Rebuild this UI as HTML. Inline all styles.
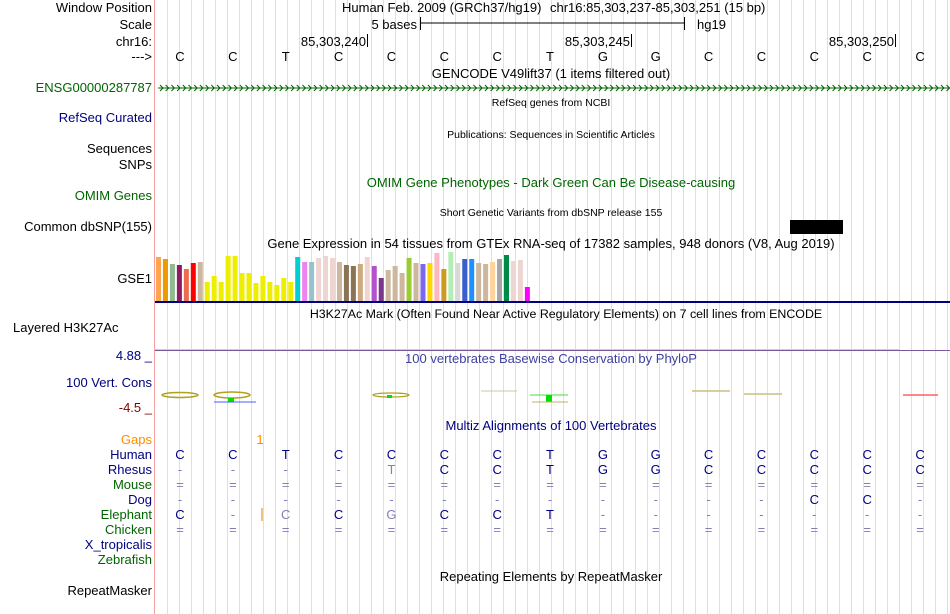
<!DOCTYPE html>
<html><head><meta charset="utf-8"><style>
body{margin:0;background:#fff;}
svg{display:block;font-family:"Liberation Sans",sans-serif;}
</style></head><body>
<svg id="g" width="950" height="614" xmlns="http://www.w3.org/2000/svg">
<g id="grid"></g>
<line x1="154.5" y1="0" x2="154.5" y2="614" stroke="#f4a0a0"/>
<g id="labels" font-size="13" text-anchor="end"></g>
<g id="tracks"></g>
</svg>
<script>
// ---- data ----
const bases = ["C","C","T","C","C","C","C","T","G","G","C","C","C","C","C"];
const rhesus = ["-","-","-","-","T","C","C","T","G","G","C","C","C","C","C"];
const dog = ["-","-","-","-","-","-","-","-","-","-","-","-","C","C","-"];
const elephant = ["C","-","C","C","G","C","C","T","-","-","-","-","-","-","-"];
const elephantLight = [0,0,1,0,1,0,0,0,0,0,0,0,0,0,0];
const rhesusLight = [0,0,0,0,1,0,0,0,0,0,0,0,0,0,0];
const gtexValues = [44,42,37,36,32,38,39,19,25,19,45,45,28,28,18,25,19,16,23,19,44,39,39,43,45,43,39,36,35,37,44,35,23,31,35,28,43,38,37,38,48,32,49,38,42,42,38,37,39,42,46,40,41,14];
const gtexColors = ["#FFA54F","#EE9A00","#8FBC8F","#8B1C62","#EE6A50","#FF0000","#CDB79E","#EEEE00","#EEEE00","#EEEE00","#EEEE00","#EEEE00","#EEEE00","#EEEE00","#EEEE00","#EEEE00","#EEEE00","#EEEE00","#EEEE00","#EEEE00","#00CED1","#EE82EE","#9AC0CD","#EED5D2","#EED5D2","#EED5D2","#CDB79E","#8B7355","#8B7355","#CDAA7D","#EED5D2","#B452CD","#7A378B","#CDB79E","#CDB79E","#CDB79E","#9ACD32","#CDB79E","#7B68EE","#FFD700","#FFB6C1","#CD9B1D","#B4EEB4","#D9D9D9","#3A5FCD","#1E90FF","#CDB79E","#CDB79E","#FFD39B","#A6A6A6","#008B45","#EED5D2","#EED5D2","#FF00FF"];

const NS="http://www.w3.org/2000/svg";
const svg=document.getElementById('g');
function el(parent,tag,attrs,text){const e=document.createElementNS(NS,tag);for(const k in attrs)e.setAttribute(k,attrs[k]);if(text!==undefined)e.textContent=text;parent.appendChild(e);return e;}
const grid=document.getElementById('grid'), labels=document.getElementById('labels'), tracks=document.getElementById('tracks');
for(let x=167.5;x<950;x+=12){const l=el(grid,'line',{x1:x,y1:0,x2:x,y2:614,stroke:'#dcdcf6'});

}
const baseX=i=>180+i*52.86;

function lab(y,t,c){const e=el(labels,'text',{x:152,y:y,fill:c||'#000'},t);

}
lab(12,'Window Position');lab(29,'Scale');lab(46,'chr16:');lab(61,'--->');
lab(92,'ENSG00000287787','#006400');lab(122,'RefSeq Curated','#000080');
lab(153,'Sequences');lab(169,'SNPs');lab(200,'OMIM Genes','#006400');
lab(231,'Common dbSNP(155)');lab(283,'GSE1');
const lh=el(labels,'text',{x:13,y:332,'text-anchor':'start'},'Layered H3K27Ac');


lab(360,'4.88 _','#000080');lab(387,'100 Vert. Cons','#000080');lab(412,'-4.5 _','#800000');
lab(444,'Gaps','#ff8c00');lab(459,'Human','#000080');lab(474,'Rhesus','#000080');
lab(489,'Mouse','#006400');lab(504,'Dog','#000080');lab(519,'Elephant','#006400');
lab(534,'Chicken','#006400');lab(549,'X_tropicalis','#000080');lab(564,'Zebrafish','#006400');
lab(595,'RepeatMasker');

function txt(x,y,t,o){const a=Object.assign({x:x,y:y,'font-size':13,fill:'#000','text-anchor':'middle'},o||{});return el(tracks,'text',a,t);}
let t;
t=txt(342,12,'Human Feb. 2009 (GRCh37/hg19)',{'text-anchor':'start'});

t=txt(550,12,'chr16:85,303,237-85,303,251 (15 bp)',{'text-anchor':'start'});

t=txt(417,29,'5 bases',{'text-anchor':'end'});
el(tracks,'line',{x1:420,y1:23,x2:684,y2:23,stroke:'#000'});
el(tracks,'line',{x1:420.5,y1:17,x2:420.5,y2:30,stroke:'#000'});
el(tracks,'line',{x1:684.5,y1:17,x2:684.5,y2:30,stroke:'#000'});
t=txt(697,29,'hg19',{'text-anchor':'start'});
[[367,'85,303,240'],[631,'85,303,245'],[895,'85,303,250']].forEach(p=>{const e=txt(p[0]-1,46,p[1],{'text-anchor':'end'});

el(tracks,'line',{x1:p[0]+.5,y1:34,x2:p[0]+.5,y2:47,stroke:'#000'});});
bases.forEach((b,i)=>{const e=txt(baseX(i),61,b);});
t=txt(551,78,'GENCODE V49lift37 (1 items filtered out)');
el(tracks,'line',{x1:158,y1:88,x2:950,y2:88,stroke:'#006400'});
let ap='';for(let x=160;x<950;x+=5.7)ap+=`M${x},85 L${x+3},88 L${x},91 `;
const ar=el(tracks,'path',{d:ap,stroke:'#006400',fill:'none','stroke-width':1});

function small(y,s,c){const e=txt(551,y,s,{'font-size':10.5,fill:c||'#000'});}
small(106,'RefSeq genes from NCBI');small(138,'Publications: Sequences in Scientific Articles');
t=txt(551,187,'OMIM Gene Phenotypes - Dark Green Can Be Disease-causing',{fill:'#006400'});
small(216,'Short Genetic Variants from dbSNP release 155');
const snp=el(tracks,'rect',{x:790,y:220,width:53,height:14,fill:'#000'});

t=txt(551,248,'Gene Expression in 54 tissues from GTEx RNA-seq of 17382 samples, 948 donors (V8, Aug 2019)');
// GTEx bars
const y0=301, yScale=v=>y0-v;
const xBar=i=>156+i*6.96;
gtexValues.forEach((v,i)=>{const r=el(tracks,'rect',{x:xBar(i),y:yScale(v),width:5,height:v,fill:gtexColors[i]});

});
el(tracks,'line',{x1:155,y1:302,x2:950,y2:302,stroke:'#000080','stroke-width':2});
t=txt(566,318,'H3K27Ac Mark (Often Found Near Active Regulatory Elements) on 7 cell lines from ENCODE',{'font-size':12.4});
el(tracks,'line',{x1:155,y1:350.5,x2:950,y2:350.5,stroke:'#7a5a9a'});
el(tracks,'line',{x1:155,y1:349.5,x2:900,y2:349.5,stroke:'#e8c8a0'});
t=txt(551,363,'100 vertebrates Basewise Conservation by PhyloP',{fill:'#4040a0'});
// conservation glyphs
const cg=el(tracks,'g',{});
el(cg,'ellipse',{cx:180,cy:395,rx:18,ry:2.5,fill:'none',stroke:'#b0a020','stroke-width':1.5});
el(cg,'ellipse',{cx:232,cy:395,rx:18,ry:3,fill:'none',stroke:'#b0a020','stroke-width':1.5});
el(cg,'rect',{x:228,y:398,width:6,height:4,fill:'#00e000'});
el(cg,'line',{x1:214,y1:402,x2:256,y2:402,stroke:'#4060ff'});
el(cg,'ellipse',{cx:391,cy:395,rx:18,ry:2,fill:'none',stroke:'#b0a020','stroke-width':1.2});
el(cg,'rect',{x:387,y:395,width:5,height:3,fill:'#00e000'});
el(cg,'line',{x1:481,y1:391,x2:517,y2:391,stroke:'#c8c8a0'});
el(cg,'line',{x1:530,y1:395,x2:568,y2:395,stroke:'#40e040'});
el(cg,'rect',{x:546,y:395,width:6,height:7,fill:'#00e000'});
el(cg,'line',{x1:532,y1:402,x2:568,y2:402,stroke:'#c0b060'});
el(cg,'line',{x1:692,y1:391,x2:730,y2:391,stroke:'#c8c080','stroke-width':1.5});
el(cg,'line',{x1:744,y1:394,x2:782,y2:394,stroke:'#c8c080','stroke-width':1.5});
el(cg,'line',{x1:903,y1:395,x2:938,y2:395,stroke:'#ff6060','stroke-width':1.5});
t=txt(551,430,'Multiz Alignments of 100 Vertebrates',{fill:'#000080'});
t=txt(260,444,'1',{fill:'#ff8c00'});
el(tracks,'line',{x1:262,y1:508,x2:262,y2:521,stroke:'#e08000'});
function row(y,arr,light){arr.forEach((b,i)=>{const sym=b==='-'||b==='=';
const e=txt(baseX(i),y,b,{fill:(sym||(light&&light[i]))?'#8080b8':'#000080'});

});}
row(459,bases);row(474,rhesus,rhesusLight);row(489,bases.map(()=>'='));
row(504,dog);row(519,elephant,elephantLight);row(534,bases.map(()=>'='));
t=txt(551,581,'Repeating Elements by RepeatMasker');
</script>
</body></html>
